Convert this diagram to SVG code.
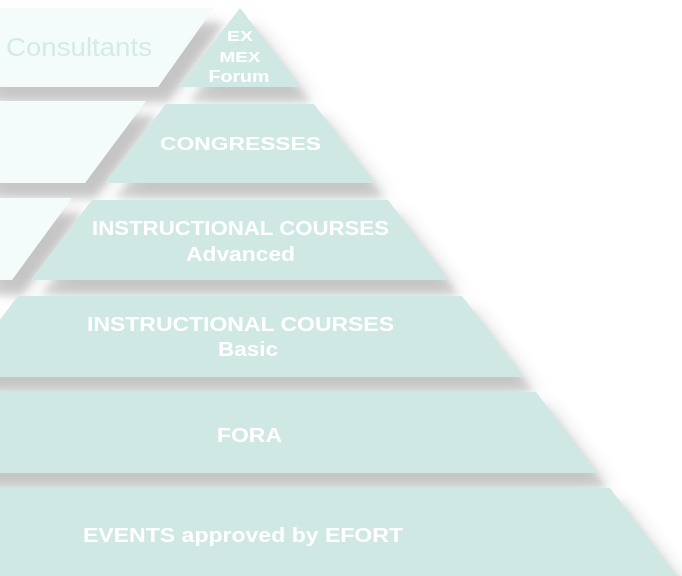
<svg xmlns="http://www.w3.org/2000/svg" width="682" height="576" viewBox="0 0 682 576">
  <defs>
    <filter id="shadow" filterUnits="userSpaceOnUse" x="-60" y="-20" width="820" height="660" color-interpolation-filters="sRGB">
      <feGaussianBlur in="SourceAlpha" stdDeviation="3.5" result="b1"/>
      <feOffset in="b1" dx="10" dy="15" result="o1"/>
      <feComponentTransfer in="o1" result="s1"><feFuncA type="linear" slope="0.13"/></feComponentTransfer>
      <feGaussianBlur in="SourceAlpha" stdDeviation="9" result="b2"/>
      <feOffset in="b2" dx="14" dy="14" result="o2"/>
      <feComponentTransfer in="o2" result="s2"><feFuncA type="linear" slope="0.12"/></feComponentTransfer>
      <feMerge>
        <feMergeNode in="s2"/>
        <feMergeNode in="s1"/>
        <feMergeNode in="SourceGraphic"/>
      </feMerge>
    </filter>
    <style>
      .layer { fill: #d0e8e4; }
      .band { fill: #f3fcfb; }
      .lbl { font-family: "Liberation Sans", Arial, sans-serif; font-weight: bold; fill: #ffffff; text-anchor: middle; }
      .cons { font-family: "Liberation Sans", Arial, sans-serif; fill: #d3ebe6; font-size: 26px; }
    </style>
  </defs>
  <rect x="0" y="0" width="682" height="576" fill="#ffffff"/>
  <g filter="url(#shadow)">
    <g id="band-consultants">
      <polygon class="band" points="-20,8 214,8 158,87 -20,87"/>
      <text class="cons" x="6" y="56" textLength="146" lengthAdjust="spacingAndGlyphs">Consultants</text>
    </g>
    <g id="band-2">
      <polygon class="band" points="-20,101 146,101 85,183 -20,183"/>
    </g>
    <g id="band-3">
      <polygon class="band" points="-20,198 72,198 12,280 -20,280"/>
    </g>
    <g id="layer-exmex">
      <polygon class="layer" points="240,8 301,87 179,87"/>
      <text class="lbl" x="240" y="41" font-size="15" textLength="26" lengthAdjust="spacingAndGlyphs">EX</text>
      <text class="lbl" x="240" y="61.5" font-size="15" textLength="41" lengthAdjust="spacingAndGlyphs">MEX</text>
      <text class="lbl" x="239" y="81.5" font-size="16" textLength="61" lengthAdjust="spacingAndGlyphs">Forum</text>
    </g>
    <g id="layer-congresses">
      <polygon class="layer" points="166,104 314,104 375,183 105,183"/>
      <text class="lbl" x="240.5" y="150" font-size="19" textLength="161" lengthAdjust="spacingAndGlyphs">CONGRESSES</text>
    </g>
    <g id="layer-advanced">
      <polygon class="layer" points="92,200 388,200 449,280 31,280"/>
      <text class="lbl" x="240.5" y="235" font-size="20" textLength="297" lengthAdjust="spacingAndGlyphs">INSTRUCTIONAL COURSES</text>
      <text class="lbl" x="240.5" y="261" font-size="20" textLength="109" lengthAdjust="spacingAndGlyphs">Advanced</text>
    </g>
    <g id="layer-basic">
      <polygon class="layer" points="18,296 462,296 524,377 -44,377"/>
      <text class="lbl" x="240.5" y="331" font-size="20" textLength="307" lengthAdjust="spacingAndGlyphs">INSTRUCTIONAL COURSES</text>
      <text class="lbl" x="248" y="356" font-size="20" textLength="60" lengthAdjust="spacingAndGlyphs">Basic</text>
    </g>
    <g id="layer-fora">
      <polygon class="layer" points="-56,392 536,392 598,473 -118,473"/>
      <text class="lbl" x="249.5" y="442" font-size="21" textLength="65" lengthAdjust="spacingAndGlyphs">FORA</text>
    </g>
    <g id="layer-events">
      <polygon class="layer" points="-130,488 610,488 687,590 -207,590"/>
      <text class="lbl" x="243" y="542" font-size="21" textLength="320" lengthAdjust="spacingAndGlyphs">EVENTS approved by EFORT</text>
    </g>
  </g>
</svg>
